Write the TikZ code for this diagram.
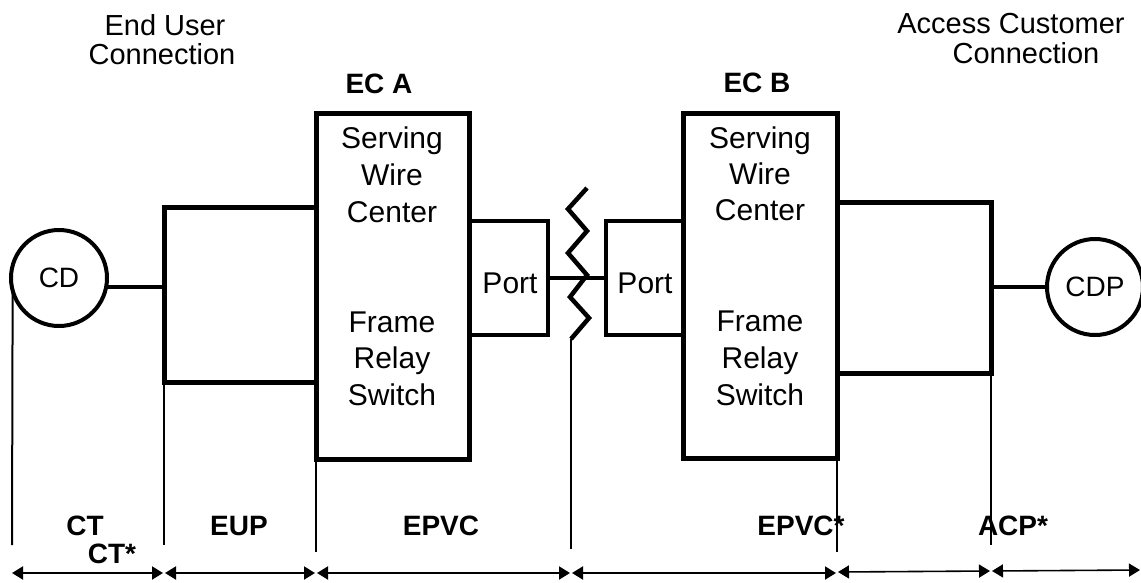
\documentclass[tikz,border=0pt]{standalone}
\usepackage{fontspec}
\setmainfont{Liberation Sans}
\usetikzlibrary{arrows.meta}
\begin{document}
\begin{tikzpicture}[x=1pt,y=-1pt,
  box/.style={draw, rectangle, line width=5pt, inner sep=0pt, outer sep=0pt},
  portbox/.style={draw, rectangle, line width=4pt, inner sep=0pt, outer sep=0pt},
  dev/.style={draw, circle, line width=4pt, inner sep=0pt, outer sep=0pt, minimum size=96pt, font=\fontsize{28}{28}\selectfont},
  conn/.style={line width=4.5pt},
  thinline/.style={line width=2pt},
  dim/.style={line width=2pt, {Triangle[length=11pt,width=13pt]}-{Triangle[length=11pt,width=13pt]}},
  txt/.style={anchor=base, inner sep=0pt, font=\fontsize{30}{36}\selectfont},
  toptxt/.style={anchor=base, inner sep=0pt, font=\fontsize{29}{29}\selectfont},
  lbl/.style={anchor=base, inner sep=0pt, font=\fontsize{28}{28}\selectfont\bfseries},
]
\useasboundingbox (0,0) rectangle (1141,582);

% boxes
\node[box, minimum width=152pt, minimum height=175pt] (eup) at (240,294.5) {};
\node[box, minimum width=153pt, minimum height=346pt] (eca) at (392.5,286) {};
\node[portbox, minimum width=79pt, minimum height=114pt] (porta) at (508.5,278) {};
\node[portbox, minimum width=77pt, minimum height=114pt] (portb) at (644.5,278) {};
\node[box, minimum width=154pt, minimum height=345pt] (ecb) at (760,285.5) {};
\node[box, minimum width=154pt, minimum height=171pt] (acp) at (914,287.5) {};
\node[dev] (cd) at (59,278) {CD};
\node[dev] (cdp) at (1095,287) {CDP};

% connectors
\draw[conn] (cd.-11) -- (cd.-11 -| eup.west);
\draw[conn] (cdp.west) -- (cdp.west -| acp.east);
\draw[conn] (porta.east) -- (portb.west);

% zigzag break
\coordinate (zt) at (587,188);
\coordinate (zz) at (571,339);
\draw[conn, line join=miter] (zt) -- (568,209) -- (587,231) -- (568,253) -- (587,275)
  -- (570,297) -- (589,318) -- (zz);

% bottom reference points
\coordinate (v0) at (12,545);
\coordinate (v1) at (164,545);
\coordinate (v2) at (316,552);
\coordinate (v3) at (571,549);
\coordinate (v4) at (837,552);
\coordinate (v5) at (991,545);

\draw[thinline] (cd.195) -- (v0);
\draw[thinline] (eup.south west) -- (v1);
\draw[thinline] (eca.south west) -- (v2);
\draw[thinline] (zz) -- (v3);
\draw[thinline] (ecb.south east) -- (v4);
\draw[thinline] (acp.south east) -- (v5);

\coordinate (a0) at (12,573);
\coordinate (a1l) at (163,573);
\coordinate (a1r) at (165,573);
\coordinate (a2l) at (315,573);
\coordinate (a2r) at (317,573);
\coordinate (a3l) at (570,573);
\coordinate (a3r) at (572,573);
\coordinate (a4l) at (836,573);
\coordinate (a4r) at (838,572);
\coordinate (a5l) at (990,571);
\coordinate (a5r) at (992,571);
\coordinate (a6) at (1140,570);

\draw[dim] (a0) -- (a1l);
\draw[dim] (a1r) -- (a2l);
\draw[dim] (a2r) -- (a3l);
\draw[dim] (a3r) -- (a4l);
\draw[dim, line width=1.6pt] (a4r) -- (a5l);
\draw[dim, line width=1.6pt] (a5r) -- (a6);

% top labels
\node[toptxt] (eu1) at (165,35) {End User};
\node[toptxt] (eu2) at (162,64) {Connection};
\node[toptxt] (ac1) at (1011,33) {Access Customer};
\node[toptxt] (ac2) at (1026,63) {Connection};
\node[lbl] (ecal) at (379,93) {EC A};
\node[lbl] (ecbl) at (757,92) {EC B};

% box texts
\node[txt] (sa1) at (392,148) {Serving};
\node[txt] (sa2) at (392,185) {Wire};
\node[txt] (sa3) at (392,222) {Center};
\node[txt] (fa1) at (392,332) {Frame};
\node[txt] (fa2) at (392,368) {Relay};
\node[txt] (fa3) at (392,405) {Switch};
\node[txt] (sb1) at (760,148) {Serving};
\node[txt] (sb2) at (760,184) {Wire};
\node[txt] (sb3) at (760,220) {Center};
\node[txt] (fb1) at (760,331) {Frame};
\node[txt] (fb2) at (760,368) {Relay};
\node[txt] (fb3) at (760,405) {Switch};
\node[txt] (pa) at (510,293) {Port};
\node[txt] (pb) at (645,293) {Port};

% bottom labels
\node[lbl] (ct) at (85,535) {CT};
\node[lbl] (cts) at (112,563) {CT*};
\node[lbl] (eupl) at (239,535) {EUP};
\node[lbl] (epvc) at (441,535) {EPVC};
\node[lbl] (epvcs) at (801,535) {EPVC*};
\node[lbl] (acps) at (1013,535) {ACP*};
\end{tikzpicture}
\end{document}
